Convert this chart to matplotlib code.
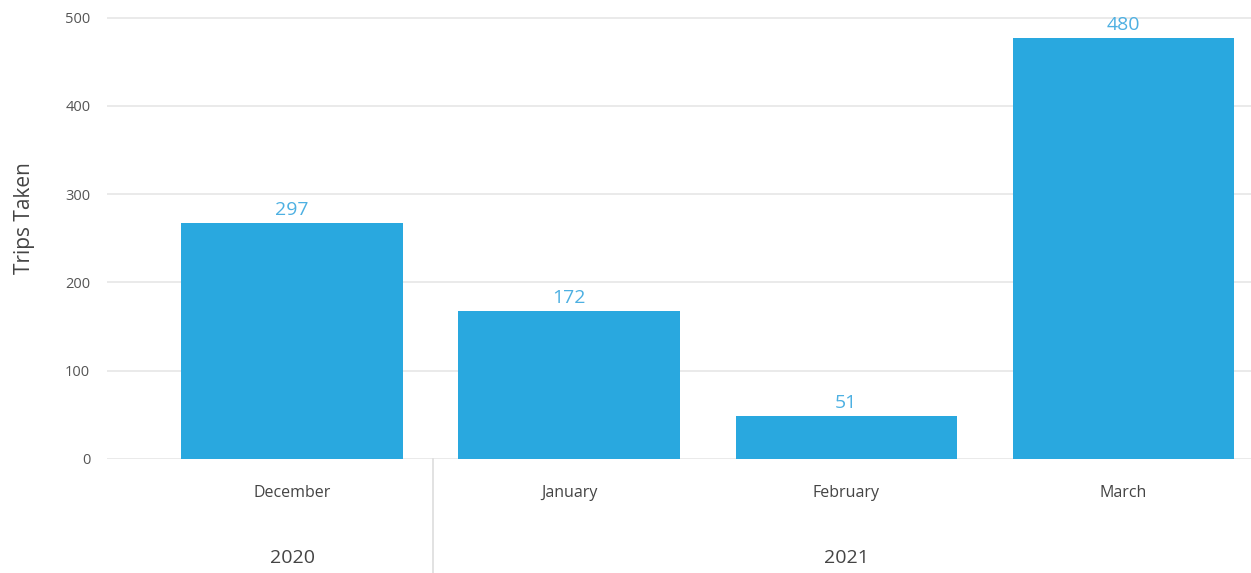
import matplotlib
matplotlib.use("Agg")
import matplotlib.pyplot as plt
import matplotlib.transforms as mtransforms

months = ["December", "January", "February", "March"]
years = ["2020", "2021"]
year_groups = [[0], [1, 2, 3]]
bar_heights = [267, 168, 49, 477]
value_labels = ["297", "172", "51", "480"]
yticks = [0, 100, 200, 300, 400, 500]

plt.rcParams['font.family'] = ['Open Sans', 'DejaVu Sans']

fig = plt.figure(figsize=(12.51, 5.73), dpi=100)
ax = fig.add_axes([0.0855, 0.199, 0.9145, 0.801])

x = list(range(len(months)))
bars = ax.bar(x, bar_heights, width=0.8, color="#29A8DF", zorder=3)

for xi, h, lab in zip(x, bar_heights, value_labels):
    ax.annotate(lab, (xi, h), xytext=(0, 3), textcoords="offset points",
                ha="center", va="bottom", color="#4DB0E2", fontsize=14)

ax.set_xlim(-0.668, 3.46)
ax.set_ylim(0, 520)
ax.set_yticks(yticks)
ax.set_yticklabels([str(t) for t in yticks], color="#555555", fontsize=10.5)
ax.yaxis.grid(True, color="#e6e6e6", linewidth=1.2, zorder=0)
ax.set_axisbelow(True)
ax.tick_params(axis="y", length=0, pad=12)
ax.tick_params(axis="x", length=0)
ax.set_xticks([])
for s in ax.spines.values():
    s.set_visible(False)

ax.set_ylabel("Trips Taken", fontsize=15, color="#444444")
ax.yaxis.set_label_coords(-0.063, 0.525)

trans = mtransforms.blended_transform_factory(ax.transData, ax.transAxes)
for xi, m in zip(x, months):
    ax.text(xi, -0.075, m, transform=trans, ha="center", va="center",
            fontsize=11.5, color="#444444")

for yr, grp in zip(years, year_groups):
    cx = (grp[0] + grp[-1]) / 2
    ax.text(cx, -0.215, yr, transform=trans, ha="center", va="center",
            fontsize=14, color="#444444")

# separators between year groups
for grp in year_groups[1:]:
    sx = grp[0] - 0.49
    ax.plot([sx, sx], [0, -0.25], transform=trans, color="#dddddd",
            linewidth=1.2, clip_on=False)

fig.savefig("out.png", dpi=100)
